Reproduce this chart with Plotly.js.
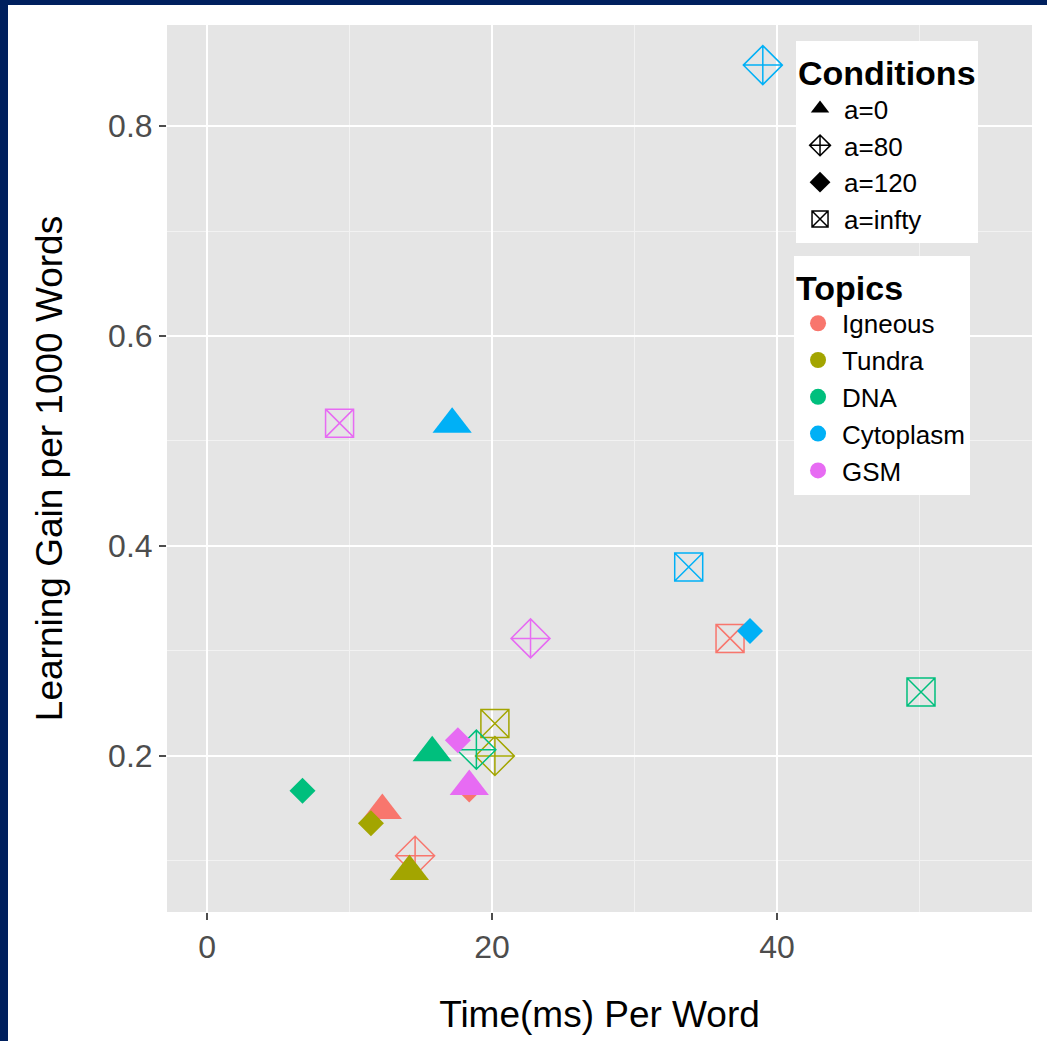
<!DOCTYPE html>
<html>
<head>
<meta charset="utf-8">
<script src="https://cdn.plot.ly/plotly-3.0.1.min.js"></script>
<style>
  html, body { margin: 0; padding: 0; background: #00205E; overflow: hidden; }
  #chart { position: absolute; left: 8px; top: 5px; width: 1039px; height: 1036px; background: #ffffff; }
</style>
</head>
<body>
<div id="chart"></div>
<script>
// ---- data ----
const topics = ['Igneous', 'Tundra', 'DNA', 'Cytoplasm', 'GSM'];
const topicColors = ['#F8766D', '#A3A500', '#00BF7D', '#00B0F6', '#E76BF3'];
const conditions = ['a=0', 'a=80', 'a=120', 'a=infty'];
const conditionSymbols = ['triangle-up', 'diamond-cross-open', 'diamond', 'square-x-open'];

// values per topic, ordered as conditions: a=0, a=80, a=120, a=infty
const timeIgneous   = [12.3, 14.6, 18.4, 36.7];
const gainIgneous   = [0.148, 0.105, 0.168, 0.312];
const timeTundra    = [14.2, 20.2, 11.5, 20.2];
const gainTundra    = [0.090, 0.200, 0.136, 0.231];
const timeDNA       = [15.8, 18.9, 6.7, 50.1];
const gainDNA       = [0.203, 0.206, 0.167, 0.261];
const timeCytoplasm = [17.2, 39.0, 38.1, 33.8];
const gainCytoplasm = [0.516, 0.858, 0.319, 0.380];
const timeGSM       = [18.4, 22.7, 17.6, 9.3];
const gainGSM       = [0.171, 0.312, 0.215, 0.517];

const xTicks = [0, 20, 40];
const yTicks = [0.2, 0.4, 0.6, 0.8];

// ---- styling ----
const symbolSizes = [34, 30, 20, 28];
const symbolLineWidths = [0, 1.5, 0, 1.5];
const FONT = 'Liberation Sans, Arial, Helvetica, sans-serif';

const times = [timeIgneous, timeTundra, timeDNA, timeCytoplasm, timeGSM];
const gains = [gainIgneous, gainTundra, gainDNA, gainCytoplasm, gainGSM];

const traces = [];
topics.forEach((t, i) => {
  traces.push({
    type: 'scatter', mode: 'markers', name: t,
    x: times[i], y: gains[i],
    text: conditions,
    showlegend: false,
    marker: {
      color: topicColors[i],
      opacity: 1,
      symbol: conditionSymbols,
      size: symbolSizes,
      line: { color: topicColors[i], width: symbolLineWidths }
    },
    hovertemplate: t + ', %{text}<br>%{x}, %{y}<extra></extra>'
  });
});

// legend entries: conditions (black shapes)
conditions.forEach((c, j) => {
  traces.push({
    type: 'scatter', mode: 'markers', name: c,
    x: [null], y: [null],
    legend: 'legend',
    showlegend: true,
    marker: { color: '#000000', opacity: 1, symbol: conditionSymbols[j], size: 16,
              line: { color: '#000000', width: symbolLineWidths[j] } }
  });
});
// legend entries: topics (coloured circles)
topics.forEach((t, i) => {
  traces.push({
    type: 'scatter', mode: 'markers', name: t,
    x: [null], y: [null],
    legend: 'legend2',
    showlegend: true,
    marker: { color: topicColors[i], opacity: 1, symbol: 'circle', size: 16 }
  });
});

const layout = {
  width: 1039, height: 1036,
  margin: { l: 159, r: 15, t: 20, b: 129 },
  paper_bgcolor: '#ffffff',
  plot_bgcolor: '#E5E5E5',
  font: { family: FONT, color: '#000000' },
  showlegend: true,
  xaxis: {
    range: [-2.81, 57.89],
    tickvals: xTicks, ticktext: xTicks.map(String),
    ticks: 'outside', ticklen: 7, tickwidth: 1.5, tickcolor: '#4D4D4D',
    tickfont: { size: 32, color: '#4D4D4D', family: FONT },
    showgrid: true, gridcolor: '#FFFFFF', gridwidth: 2,
    minor: { dtick: 10, showgrid: true, gridcolor: '#F2F2F2', gridwidth: 1, ticks: '' },
    zeroline: false, showline: false,
    title: { text: 'Time(ms) Per Word', font: { size: 37, color: '#000000', family: FONT }, standoff: 36 }
  },
  yaxis: {
    range: [0.0514, 0.8962],
    tickvals: yTicks, ticktext: yTicks.map(v => v.toFixed(1)),
    ticks: 'outside', ticklen: 7, tickwidth: 1.5, tickcolor: '#4D4D4D',
    tickfont: { size: 32, color: '#4D4D4D', family: FONT },
    showgrid: true, gridcolor: '#FFFFFF', gridwidth: 2,
    minor: { dtick: 0.1, showgrid: true, gridcolor: '#F2F2F2', gridwidth: 1, ticks: '' },
    zeroline: false, showline: false,
    title: { text: 'Learning Gain per 1000 Words', font: { size: 37, color: '#000000', family: FONT }, standoff: 34 }
  },
  legend: {
    x: 0.7272, y: 0.982, xanchor: 'left', yanchor: 'top',
    xref: 'paper', yref: 'paper',
    bgcolor: '#FFFFFF', borderwidth: 0,
    font: { size: 26, family: FONT, color: '#000000' },
    title: { text: '<b>Conditions</b>', font: { size: 34, family: FONT, color: '#000000' } },
    itemsizing: 'trace', itemwidth: 38, tracegroupgap: 0
  },
  legend2: {
    x: 0.7249, y: 0.740, xanchor: 'left', yanchor: 'top',
    xref: 'paper', yref: 'paper',
    bgcolor: '#FFFFFF', borderwidth: 0,
    font: { size: 26, family: FONT, color: '#000000' },
    title: { text: '<b>Topics</b>', font: { size: 34, family: FONT, color: '#000000' } },
    itemsizing: 'trace', itemwidth: 38, tracegroupgap: 0
  }
};

Plotly.newPlot('chart', traces, layout, { displayModeBar: false });
</script>
</body>
</html>
